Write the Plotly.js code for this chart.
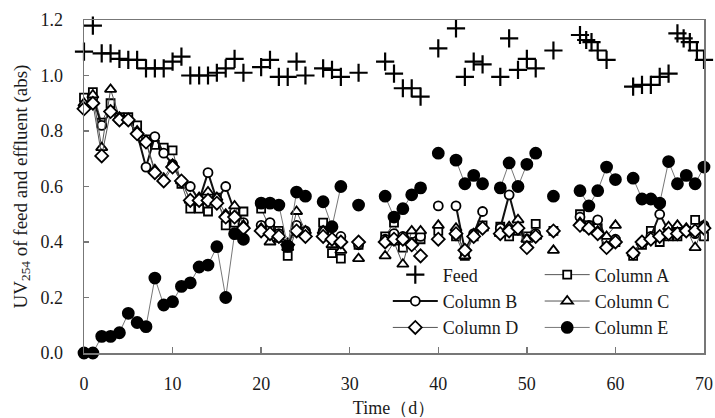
<!DOCTYPE html>
<html>
<head>
<meta charset="utf-8">
<script src="https://cdn.plot.ly/plotly-3.0.1.min.js"></script>
<style>html,body{margin:0;padding:0;background:#fff;}#chart{width:715px;height:418px;}</style>
</head>
<body>
<div id="chart"></div>
<script>
// Time (d) for effluent columns (null values = no sample that day)
var days = [0,1,2,3,4,5,6,7,8,9,10,11,12,13,14,15,16,17,18,19,20,21,22,23,24,25,26,27,28,29,30,31,32,33,34,35,36,37,38,39,40,41,42,43,44,45,46,47,48,49,50,51,52,53,54,55,56,57,58,59,60,61,62,63,64,65,66,67,68,69,70];

var colA = [0.92,0.94,0.83,0.90,0.85,0.85,0.82,0.77,0.75,0.74,0.73,0.61,0.52,0.52,0.51,0.56,0.46,0.47,0.51,null,
            0.52,0.45,0.44,0.35,0.45,0.43,null,0.47,0.36,0.34,null,0.39,null,null,0.42,0.47,0.38,0.42,0.41,null,
            0.44,null,0.42,0.35,0.42,0.46,null,0.455,0.42,0.44,0.42,0.465,null,0.44,null,null,0.50,0.46,0.45,0.40,
            0.40,null,0.35,0.39,0.44,0.40,0.42,0.42,0.44,0.48,0.42];
var colB = [0.89,0.92,0.82,0.87,0.84,0.84,0.79,0.67,0.78,0.72,0.68,0.62,0.60,0.55,0.65,0.55,0.60,0.51,0.47,null,
            0.46,0.47,0.43,0.39,0.46,0.44,null,0.44,0.41,0.42,null,0.39,null,null,0.41,0.43,0.42,0.43,0.42,null,
            0.53,null,0.53,0.37,0.43,0.51,null,0.45,0.57,0.45,0.41,0.43,null,0.44,null,null,0.49,0.46,0.48,0.41,
            0.41,null,0.36,0.40,0.42,0.50,0.44,0.44,0.44,0.43,0.46];
var colC = [0.90,0.93,0.74,0.95,0.85,0.84,0.80,0.76,0.66,0.63,0.68,0.62,0.55,0.56,0.58,0.56,0.50,0.53,0.46,null,
            0.45,0.40,0.41,0.38,0.51,0.44,null,0.44,0.39,0.37,null,0.34,null,null,0.35,0.40,0.32,0.44,0.44,null,
            0.46,null,0.45,0.35,0.43,0.45,null,0.43,0.455,0.48,0.41,0.42,null,0.37,null,null,0.47,0.45,0.44,0.42,
            0.46,null,0.36,0.40,0.41,0.42,0.455,0.46,0.45,0.38,0.46];
var colD = [0.88,0.90,0.71,0.87,0.84,0.84,0.79,0.76,0.65,0.62,0.67,0.62,0.55,0.55,0.55,0.54,0.49,0.49,0.45,null,
            0.44,0.43,0.42,0.39,0.44,0.42,null,0.42,0.41,0.40,null,0.40,null,null,0.40,0.41,0.41,0.39,0.35,null,
            0.41,null,0.43,0.37,0.42,0.45,null,0.43,0.44,0.45,0.38,0.42,null,0.44,null,null,0.46,0.45,0.43,0.38,
            0.40,null,0.36,0.40,0.41,0.42,0.43,0.43,0.44,0.44,0.45];
var colE = [0.00,0.00,0.06,0.06,0.073,0.143,0.11,0.095,0.27,0.173,0.185,0.24,0.253,0.31,0.317,0.383,0.20,0.43,0.41,null,
            0.54,0.54,0.533,0.385,0.58,0.565,null,0.545,0.455,0.60,null,0.533,null,null,0.565,0.49,0.52,0.57,0.595,null,
            0.72,null,0.695,0.61,0.64,0.61,null,0.595,0.685,0.60,0.68,0.72,null,0.565,null,null,0.585,0.53,0.585,0.67,
            0.625,null,0.63,0.555,0.555,0.54,0.69,0.61,0.64,0.61,0.67];

// Feed samples
var feedDays = [0,1,2,3,4,5,6,7,8,9,10,11,12,13,14,15,16,17,18,20,21,22,23,24,25,27,28,29,31,34,35,36,37,38,40,42,43,44,45,47,48,49,50,51,53,56,56.7,57.3,58,59,62,63,64,65,66,67,67.7,68.4,69.2,70];
var feedVals = [1.086,1.18,1.08,1.08,1.06,1.056,1.056,1.026,1.026,1.026,1.05,1.068,1.0,1.0,1.0,1.01,1.026,1.06,1.01,1.03,1.056,0.995,0.995,1.05,1.0,1.026,1.02,0.995,1.01,1.05,1.007,0.954,0.954,0.924,1.098,1.17,0.995,1.05,1.04,0.995,1.134,1.02,1.06,1.026,1.09,1.146,1.128,1.12,1.09,1.056,0.96,0.966,0.966,0.995,1.007,1.152,1.134,1.12,1.09,1.056];

var xTicks = [0,10,20,30,40,50,60,70];
var yTicks = [0,0.2,0.4,0.6,0.8,1.0,1.2];

var FONT = 'Liberation Serif';
var INK = '#1a1a1a';

function col(name, y, sym, lineW, lineCol, size, fill, leg) {
  return {
    type: 'scatter', mode: 'lines+markers', name: name, x: days, y: y,
    legend: leg, cliponaxis: false,
    line: {color: lineCol, width: lineW},
    marker: {symbol: sym, size: size, color: fill, line: {color: '#000', width: 1.8}}
  };
}

var traces = [
  {type: 'scatter', mode: 'markers', name: 'Feed', x: feedDays, y: feedVals, legend: 'legend', cliponaxis: false,
   marker: {symbol: 'cross-thin-open', size: 13, color: '#000', line: {color: '#000', width: 2.2}}},
  col('Column A', colA, 'square', 1, '#555', 8, '#fff', 'legend2'),
  col('Column B', colB, 'circle', 2, '#111', 9, '#fff', 'legend'),
  col('Column C', colC, 'triangle-up', 1, '#555', 10, '#fff', 'legend2'),
  col('Column D', colD, 'diamond', 1, '#555', 10, '#fff', 'legend'),
  col('Column E', colE, 'circle', 1, '#777', 11, '#000', 'legend2')
];

var legendCommon = {
  font: {family: FONT, size: 18, color: INK},
  bgcolor: 'rgba(0,0,0,0)', borderwidth: 0, orientation: 'v',
  yanchor: 'top', xanchor: 'left', tracegroupgap: 0, itemsizing: 'trace', itemwidth: 45
};

var layout = {
  width: 715, height: 418,
  margin: {l: 84, r: 11, t: 20, b: 65, pad: 0},
  paper_bgcolor: '#fff', plot_bgcolor: '#fff',
  font: {family: FONT, size: 18, color: INK},
  showlegend: true,
  legend: Object.assign({}, legendCommon, {x: 0.49, y: 0.29}),
  legend2: Object.assign({}, legendCommon, {x: 0.735, y: 0.29}),
  xaxis: {
    range: [0, 70], tickvals: xTicks, ticktext: xTicks.map(String),
    ticks: 'inside', ticklen: 6, tickwidth: 1.5, tickcolor: '#777',
    showline: true, linecolor: '#777', linewidth: 1.5, mirror: true,
    showgrid: false, zeroline: false, ticklabelstandoff: 14,
    tickfont: {family: FONT, size: 18, color: INK},
    title: {text: 'Time（d）', font: {family: FONT, size: 18, color: INK}, standoff: 8}
  },
  yaxis: {
    range: [0, 1.2], tickvals: yTicks, tickformat: '.1f',
    ticks: 'inside', ticklen: 5, tickwidth: 1.5, tickcolor: '#777',
    showline: true, linecolor: '#777', linewidth: 1.5, mirror: true,
    showgrid: false, zeroline: false, ticklabelstandoff: 16,
    tickfont: {family: FONT, size: 18, color: INK},
    title: {text: 'UV<sub>254</sub> of feed and effluent (abs)', font: {family: FONT, size: 19, color: INK}, standoff: 8}
  }
};

Plotly.newPlot('chart', traces, layout, {staticPlot: true, displayModeBar: false});
</script>
</body>
</html>
